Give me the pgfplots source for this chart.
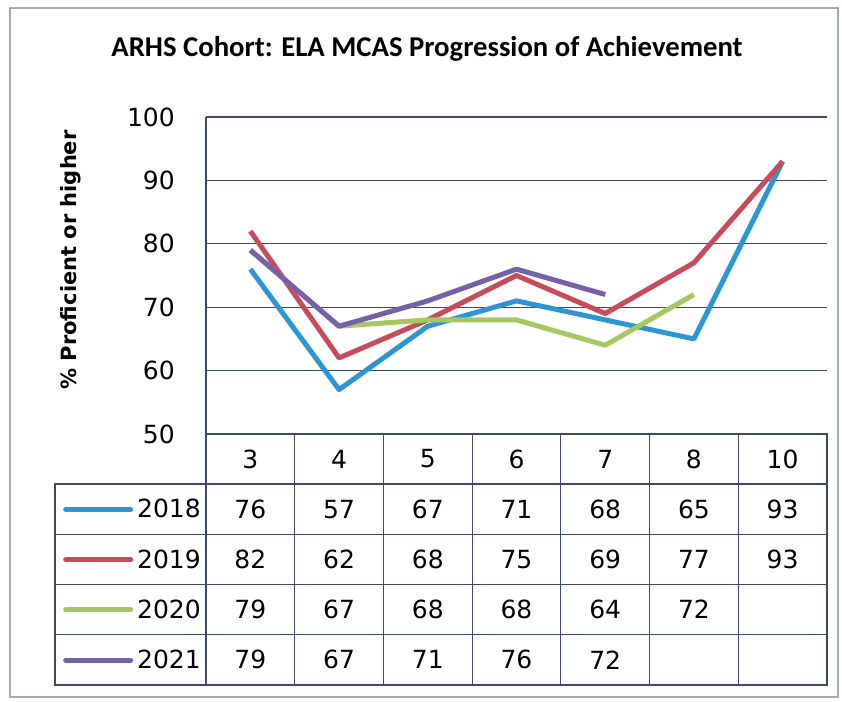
\documentclass[border=0pt]{standalone}
\usepackage{fontspec}
\setmainfont{DejaVu Sans}
\newfontfamily\titlefont{Carlito}
\usepackage{pgfplots}
\pgfplotsset{compat=1.18}
\definecolor{c18}{RGB}{46,149,211}
\definecolor{c19}{RGB}{200,75,92}
\definecolor{c20}{RGB}{165,200,98}
\definecolor{c21}{RGB}{117,97,168}
\definecolor{gridcol}{RGB}{60,75,105}
\definecolor{framecol}{RGB}{160,170,185}
\newcommand\nf{\fontsize{25}{30}\selectfont}
\pgfplotsset{
  tablecell/.style={draw=none, mark=none, nodes near coords, point meta=explicit symbolic,
    nodes near coords align=center, every node near coord/.append style={font=\nf, text=black}},
}
\begin{document}
\begin{tikzpicture}
\path[use as bounding box] (0,0) rectangle (842pt,701pt);
\draw[framecol, line width=1.5pt] (10pt,4pt) rectangle (838pt,693pt);
\node[font=\titlefont\bfseries\fontsize{28.7}{34}\selectfont] at (427pt,652pt) {ARHS Cohort: ELA MCAS Progression of Achievement};
% main chart
\begin{axis}[at={(206pt,267pt)}, anchor=south west, scale only axis,
  width=621pt, height=317pt,
  xmin=-0.5, xmax=6.5, ymin=50, ymax=100,
  ytick={50,60,...,100}, xtick=\empty,
  ymajorgrids, grid style={gridcol, line width=1.2pt},
  axis lines*=left, axis line style={gridcol, line width=1.2pt},
  major tick length=0pt,
  /pgf/number format/assume math mode=true,
  yticklabel style={font=\nf, inner sep=0pt, anchor=east, xshift=-31pt},
  ylabel={\% Proficient or higher},
  ylabel style={font=\bfseries\fontsize{21}{25}\selectfont, at={(axis description cs:-0.2175,0.549)}, anchor=center},
  legend cell align=left,
  legend style={draw=none, fill=none, inner sep=0pt, row sep=0pt, font=\nf,
    at={(axis description cs:-0.2303,-0.1577)}, anchor=north west,
    nodes={inner sep=0pt, minimum height=50.25pt, anchor=west},
    /tikz/every odd column/.append style={column sep=4pt}},
  legend image code/.code={\draw[#1, line cap=round] (0pt,0pt) -- (65pt,0pt);},
]
\addplot[c18, line width=5pt, line join=round] coordinates {(0,76)(1,57)(2,67)(3,71)(4,68)(5,65)(6,93)};
\addlegendentry{2018}
\addplot[c19, line width=5pt, line join=round] coordinates {(0,82)(1,62)(2,68)(3,75)(4,69)(5,77)(6,93)};
\addlegendentry{2019}
\addplot[c20, line width=5pt, line join=round] coordinates {(0,79)(1,67)(2,68)(3,68)(4,64)(5,72)};
\addlegendentry{2020}
\addplot[c21, line width=5pt, line join=round] coordinates {(0,79)(1,67)(2,71)(3,76)(4,72)};
\addlegendentry{2021}
\end{axis}
% header row
\begin{axis}[at={(206pt,217pt)}, anchor=south west, scale only axis,
  width=621pt, height=50pt, xmin=-0.5, xmax=6.5, ymin=0, ymax=1,
  xtick={0.5,1.5,...,5.5}, xticklabels={}, ytick=\empty,
  xmajorgrids, grid style={gridcol, line width=1.2pt},
  axis line style={gridcol, line width=1.2pt}, major tick length=0pt, clip=false]
\addplot[tablecell] coordinates {(0,0.5)[3] (1,0.5)[4] (2,0.5)[5] (3,0.5)[6] (4,0.5)[7] (5,0.5)[8] (6,0.5)[10]};
\end{axis}
% data table
\begin{axis}[at={(55pt,16pt)}, anchor=south west, scale only axis,
  width=772pt, height=201pt, xmin=-2.202, xmax=6.5, ymin=0, ymax=4,
  xtick={-0.5,0.5,...,5.5}, ytick={1,2,3}, xticklabels={}, yticklabels={},
  grid=major, grid style={gridcol, line width=1.2pt},
  axis line style={gridcol, line width=1.2pt}, major tick length=0pt, clip=false]
\addplot[tablecell] coordinates {(0,3.5)[76] (1,3.5)[57] (2,3.5)[67] (3,3.5)[71] (4,3.5)[68] (5,3.5)[65] (6,3.5)[93]};
\addplot[tablecell] coordinates {(0,2.5)[82] (1,2.5)[62] (2,2.5)[68] (3,2.5)[75] (4,2.5)[69] (5,2.5)[77] (6,2.5)[93]};
\addplot[tablecell] coordinates {(0,1.5)[79] (1,1.5)[67] (2,1.5)[68] (3,1.5)[68] (4,1.5)[64] (5,1.5)[72]};
\addplot[tablecell] coordinates {(0,0.5)[79] (1,0.5)[67] (2,0.5)[71] (3,0.5)[76] (4,0.5)[72]};
\end{axis}
\end{tikzpicture}
\end{document}
